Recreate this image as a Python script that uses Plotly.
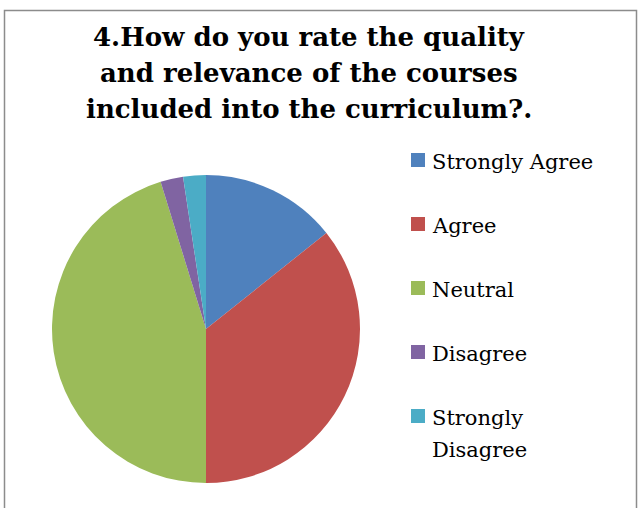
import plotly.graph_objects as go

labels = ["Strongly Agree", "Agree", "Neutral", "Disagree", "Strongly Disagree"]
legend_lines = [["Strongly Agree"], ["Agree"], ["Neutral"], ["Disagree"], ["Strongly", "Disagree"]]
values = [6, 15, 19, 1, 1]
colors = ["#4F81BD", "#C0504D", "#9BBB59", "#8064A2", "#4BACC6"]
title_lines = ["4.How do you rate the quality", "and relevance of the courses",
               "included into the curriculum?."]

W, H = 642, 508

fig = go.Figure(go.Pie(
    labels=labels, values=values, sort=False, direction="clockwise", rotation=0,
    marker=dict(colors=colors, line=dict(width=0)),
    textinfo="none", showlegend=False,
    domain=dict(x=[52 / W, 360 / W], y=[25 / H, 333 / H]),
))

shapes = [dict(type="rect", xref="paper", yref="paper",
               x0=4.5 / W, x1=636.5 / W, y0=-0.1, y1=(H - 10.5) / H,
               line=dict(color="#8c8c8c", width=1.5), fillcolor="rgba(0,0,0,0)")]
annotations = []
for j, line in enumerate(title_lines):
    annotations.append(dict(text="<b>" + line + "</b>", x=309 / W, y=(H - (37 + 36 * j)) / H,
                            xref="paper", yref="paper", showarrow=False,
                            xanchor="center", yanchor="middle",
                            font=dict(family="DejaVu Serif", size=26, color="#000000")))

ys = [160, 224, 288, 352, 416]
for i, (lines, c) in enumerate(zip(legend_lines, colors)):
    y = ys[i]
    shapes.append(dict(type="rect", xref="paper", yref="paper",
                       x0=411 / W, x1=425 / W, y0=(H - y - 7) / H, y1=(H - y + 7) / H,
                       fillcolor=c, line=dict(width=0)))
    for k, t in enumerate(lines):
        annotations.append(dict(text=t, x=430 / W, y=(H - (y + 2 + 32 * k)) / H,
                                xref="paper", yref="paper",
                                showarrow=False, xanchor="left", yanchor="middle", align="left",
                                font=dict(family="DejaVu Serif", size=21, color="#000000")))

fig.update_layout(width=W, height=H, margin=dict(l=0, r=0, t=0, b=0),
                  paper_bgcolor="white", plot_bgcolor="white",
                  shapes=shapes, annotations=annotations)
fig.write_html("out.html", config={"displayModeBar": False},
               post_script="document.body.style.margin='0';document.body.style.overflow='hidden';")
